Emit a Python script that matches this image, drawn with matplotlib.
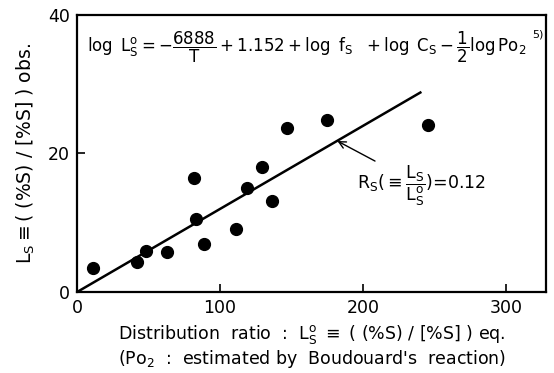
import numpy as np
import matplotlib
matplotlib.use("Agg")
import matplotlib.pyplot as plt

plt.rcParams['font.family'] = ['DejaVu Sans']
plt.rcParams['mathtext.fontset'] = 'dejavusans'
plt.rcParams['mathtext.default'] = 'regular'

# observed points: equilibrium ratio vs observed ratio
ls_eq = [11, 42, 48, 63, 82, 83, 89, 111, 119, 129, 136, 147, 175, 245]
ls_obs = [3.5, 4.3, 5.9, 5.8, 16.5, 10.6, 6.9, 9.1, 15.0, 18.0, 13.2, 23.7, 24.9, 24.1]

# fitted line Rs = 0.12
rs = 0.12
line_x = [0, 240]

xticks = [0, 100, 200, 300]
yticks = [0, 20, 40]

fig = plt.figure(figsize=(5.54, 3.73), dpi=100)
ax = fig.add_axes([0.139, 0.217, 0.847, 0.743])

ax.plot(line_x, [rs * v for v in line_x], color='black', lw=1.8)
ax.plot(ls_eq, ls_obs, 'o', color='black', ms=8.5)

ax.set_xlim(0, 328)
ax.set_ylim(0, 40)
ax.set_xticks(xticks)
ax.set_yticks(yticks)
ax.tick_params(direction='in', length=6, width=1.2, labelsize=12.5, pad=5)
for s in ax.spines.values():
    s.set_linewidth(1.6)

# equation at top
ax.text(7, 35.3,
        r'$\log\ L_S^o = -\dfrac{6888}{T} + 1.152 + \log\ f_S\ \ + \log\ C_S - \dfrac{1}{2}\log Po_2$',
        fontsize=12, va='center', ha='left')
ax.text(318, 37.2, '5)', fontsize=8, va='center', ha='left')

# Rs annotation
ax.annotate(r'$R_S(\equiv\dfrac{L_S}{L_S^o})$=0.12', xy=(182, 21.8), xytext=(196, 15.3),
            fontsize=12.5, va='center', ha='left',
            arrowprops=dict(arrowstyle='->', color='black', lw=1.0,
                            shrinkA=0, shrinkB=0))

ax.set_ylabel(r'$L_S$$\equiv$( (%S) / [%S] ) obs.', fontsize=13.5, labelpad=8)
ax.set_xlabel("Distribution  ratio  :  $L_S^o$ $\\equiv$ ( (%S) / [%S] ) eq.\n"
              "(Po$_2$  :  estimated by  Boudouard's  reaction)",
              fontsize=12.5, labelpad=4, linespacing=1.15)

fig.savefig('out.png', dpi=100)
